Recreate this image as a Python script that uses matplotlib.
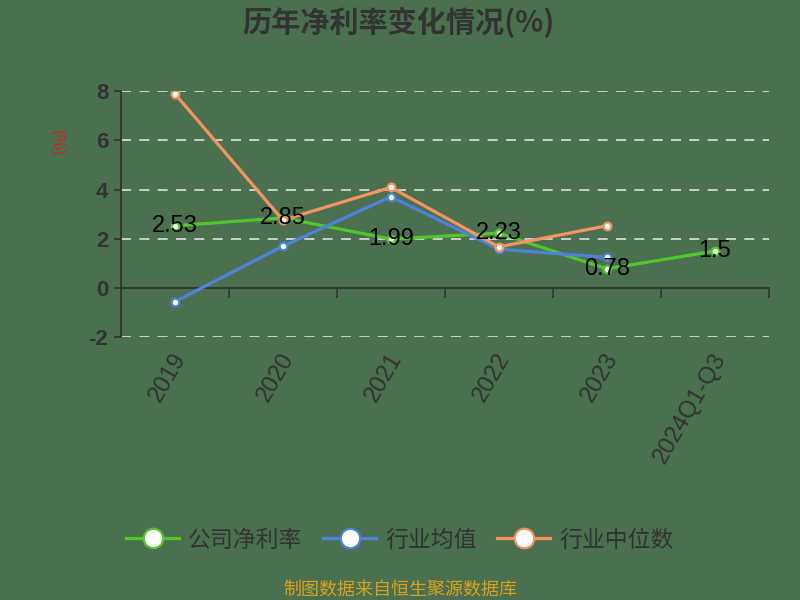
import matplotlib.pyplot as plt
from matplotlib.lines import Line2D

plt.rcParams['font.family'] = ['Noto Sans CJK SC', 'DejaVu Sans']

# Data
categories = ['2019', '2020', '2021', '2022', '2023', '2024Q1-Q3']
company = [2.53, 2.85, 1.99, 2.23, 0.78, 1.5]
industry_avg = [-0.56, 1.70, 3.71, 1.58, 1.24]
industry_median = [7.9, 2.76, 4.09, 1.67, 2.53]

bg = '#4b7050'
green = '#52c62a'
blue = '#4d82dc'
orange = '#f59460'
dark = '#333333'
latin = ['Liberation Sans', 'DejaVu Sans']

fig = plt.figure(figsize=(8, 6), dpi=100, facecolor=bg)
ax = fig.add_axes([0.151, 0.438, 0.81, 0.41], facecolor=bg)

x_all = list(range(len(categories)))
series = [
    (company, green, '公司净利率'),
    (industry_avg, blue, '行业均值'),
    (industry_median, orange, '行业中位数'),
]
for values, color, name in series:
    ax.plot(x_all[:len(values)], values, color=color, lw=2.3, marker='o', ms=5.5,
            mfc='white', mec=color, mew=1.6, zorder=3, label=name)

# Data labels for the company series
for xi, v in zip(x_all, company):
    ax.text(xi, v, '{:g}'.format(v), ha='center', va='center', fontsize=17,
            color='black', family=latin, zorder=4)

ax.set_xlim(-0.5, len(categories) - 0.5)
ax.set_ylim(-2, 8)

# Grid lines
for gy in [-2, 2, 4, 6, 8]:
    ax.axhline(gy, color='#e0e0e0', lw=1.2, ls=(0, (6, 5)), zorder=1)

# Spines
for s in ['top', 'right']:
    ax.spines[s].set_visible(False)
ax.spines['left'].set_color(dark)
ax.spines['left'].set_linewidth(1.3)
ax.spines['bottom'].set_position(('data', 0))
ax.spines['bottom'].set_color(dark)
ax.spines['bottom'].set_linewidth(1.3)

ax.set_yticks([-2, 0, 2, 4, 6, 8])
ax.set_yticklabels(['-2', '0', '2', '4', '6', '8'])
ax.tick_params(axis='y', colors=dark, labelsize=16, length=5, width=1.2, pad=4)
for lab in ax.get_yticklabels():
    lab.set_fontweight('bold')
    lab.set_family(latin)

# Category boundary ticks on the zero line, labels below the axes
ax.set_xticks([i + 0.5 for i in x_all])
ax.set_xticklabels([])
ax.tick_params(axis='x', colors=dark, length=7, width=1.2)
for xi, cat in zip(x_all, categories):
    ax.text(xi - 0.03, -2.5, cat, rotation=60, ha='right', va='top', fontsize=17,
            color=dark, rotation_mode='anchor', family=latin)

ax.text(-0.1, 0.79, '(%)', transform=ax.transAxes, rotation=-90, color='#d42020',
        fontsize=12, ha='center', va='center')

fig.text(0.498, 0.962, '历年净利率变化情况(%)', ha='center', va='center', fontsize=21,
         fontweight='bold', color=dark)

handles = [Line2D([], [], color=c, lw=2.3, marker='o', ms=14, mfc='white', mec=c, mew=1.6)
           for _, c, _ in series]
fig.legend(handles, [n for _, _, n in series], loc='center', bbox_to_anchor=(0.5, 0.1),
           ncol=3, frameon=False, fontsize=16.5, handlelength=2.3, columnspacing=0.9,
           handletextpad=0.4, labelcolor=dark)

fig.text(0.5, 0.017, '制图数据来自恒生聚源数据库', ha='center', va='center', fontsize=13,
         color='#d9a21e')

fig.savefig('out.png', dpi=100, facecolor=bg)
